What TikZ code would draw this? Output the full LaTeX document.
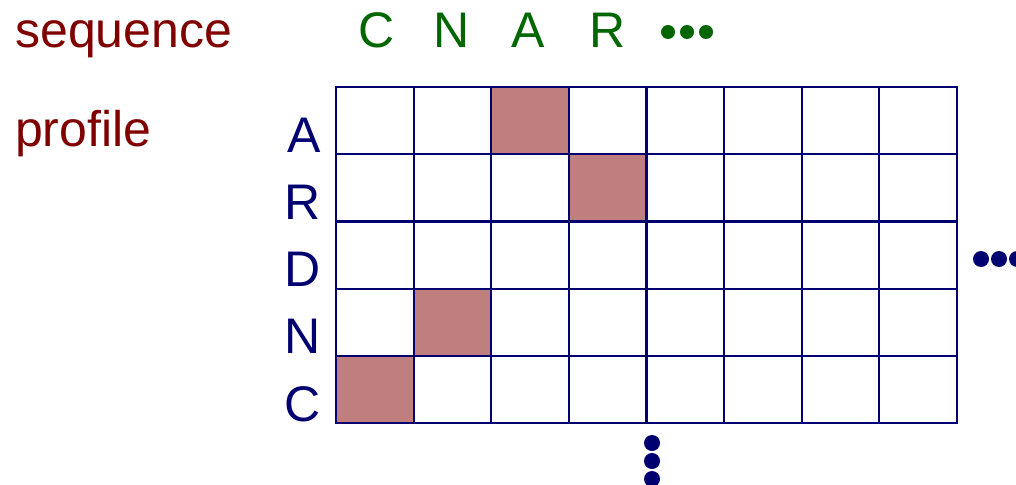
\documentclass[tikz,border=0pt]{standalone}
\usepackage{fontspec}
\setmainfont{Liberation Sans}
\definecolor{lblred}{RGB}{128,0,0}
\definecolor{seqgreen}{RGB}{0,102,0}
\definecolor{gridnavy}{RGB}{0,0,112}
\definecolor{hitfill}{RGB}{191,127,127}
\tikzset{
  lbl/.style={font=\fontsize{50}{50}\selectfont, inner sep=0pt},
  cell/.style={draw=gridnavy, line width=2.2pt, minimum width=77.6pt, minimum height=67.2pt, inner sep=0pt, anchor=north west},
  hit/.style={cell, fill=hitfill},
  gdot/.style={circle, fill=seqgreen, inner sep=0pt, minimum size=14pt},
  ndot/.style={circle, fill=gridnavy, inner sep=0pt, minimum size=16pt}
}
\begin{document}
\begin{tikzpicture}[x=1pt,y=-1pt]
\useasboundingbox (0,0) rectangle (1016,484);
\node[lbl, text=lblred, anchor=base west] (seq) at (15,48) {sequence};
\node[lbl, text=lblred, anchor=base west] (prof) at (15,146) {profile};
% sequence letters
\foreach \ch/\xx [count=\i] in {C/377,N/452,A/528,R/608}
  \node[lbl, text=seqgreen, anchor=base] (s\i) at (\xx,48) {\ch};
\node[gdot] (g1) at (668,32) {};
\node[gdot] (g2) at (687,32) {};
\node[gdot] (g3) at (706,32) {};
% grid
\foreach \r in {1,...,5}
  \foreach \c in {1,...,8}
    \node[cell] (c\r\c) at ({335+(\c-1)*77.6},{86+(\r-1)*67.2}) {};
\node[hit] (h13) at ({335+2*77.6},86) {};
\node[hit] (h24) at ({335+3*77.6},{86+67.2}) {};
\node[hit] (h42) at ({335+1*77.6},{86+3*67.2}) {};
\node[hit] (h51) at (335,{86+4*67.2}) {};
% row labels
\foreach \ch [count=\i] in {A,R,D,N,C}
  \node[lbl, text=gridnavy, anchor=base east] (r\i) at (321,{86+\i*67.2-1}) {\ch};
% ellipsis dots
\node[ndot] (d1) at (981,259) {};
\node[ndot] (d2) at (999,259) {};
\node[ndot] (d3) at (1017,259) {};
\node[ndot] (v1) at (652,443) {};
\node[ndot] (v2) at (652,461) {};
\node[ndot] (v3) at (652,479) {};
\end{tikzpicture}
\end{document}
